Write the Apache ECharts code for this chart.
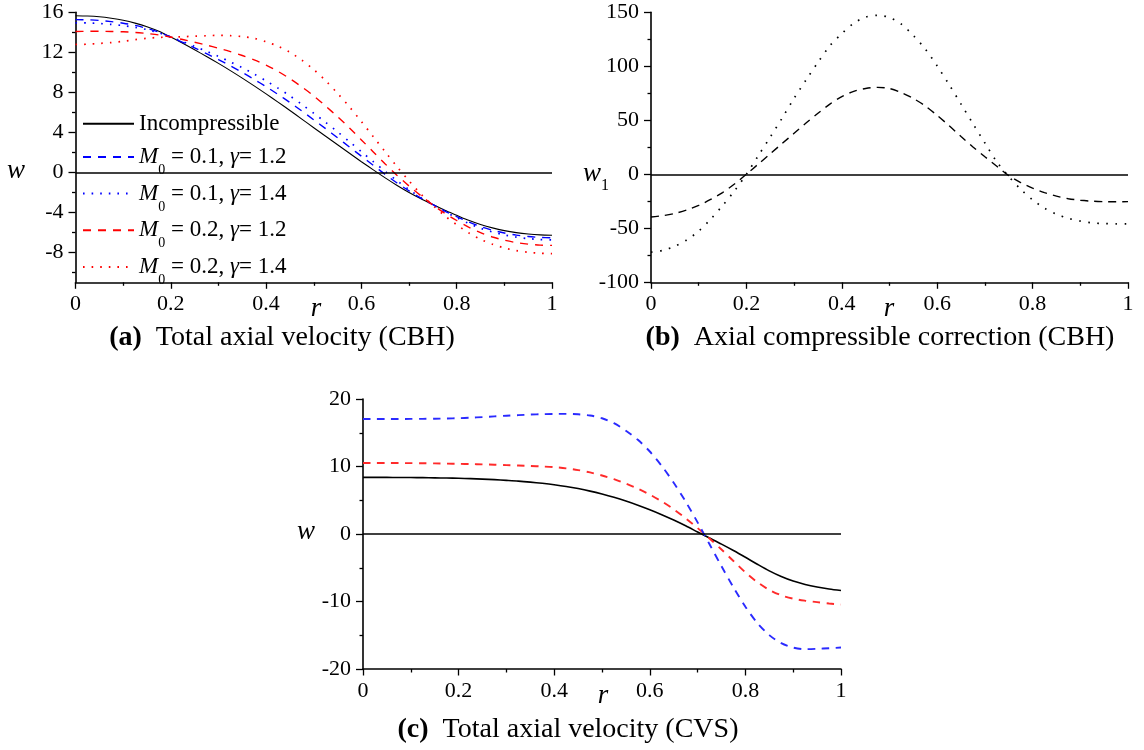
<!DOCTYPE html>
<html><head><meta charset="utf-8">
<script src="https://cdn.jsdelivr.net/npm/echarts@6/dist/echarts.min.js"></script>
<style>html,body{margin:0;padding:0;background:#fff}#c{width:1144px;height:750px}</style>
</head><body><div id="c"></div>
<script>
// ---- data ----
const R = [0,0.025,0.05,0.075,0.1,0.125,0.15,0.175,0.2,0.225,0.25,0.275,0.3,0.325,0.35,0.375,0.4,0.425,0.45,0.475,0.5,0.525,0.55,0.575,0.6,0.625,0.65,0.675,0.7,0.725,0.75,0.775,0.8,0.825,0.85,0.875,0.9,0.925,0.95,0.975,1];

// (a) total axial velocity (CBH)
const incompA = [15.66,15.63,15.55,15.40,15.20,14.92,14.56,14.10,13.52,12.90,12.25,11.58,10.89,10.17,9.42,8.64,7.84,7.02,6.18,5.32,4.46,3.60,2.75,1.90,1.06,0.24,-0.56,-1.32,-2.02,-2.65,-3.22,-3.80,-4.30,-4.80,-5.22,-5.56,-5.83,-6.03,-6.17,-6.26,-6.30];
const m01g12A = [15.27,15.25,15.19,15.07,14.91,14.69,14.39,14.01,13.52,13.00,12.44,11.87,11.27,10.65,9.99,9.29,8.56,7.79,6.98,6.13,5.25,4.36,3.45,2.53,1.61,0.69,-0.21,-1.07,-1.86,-2.58,-3.23,-3.88,-4.43,-4.97,-5.42,-5.79,-6.07,-6.28,-6.42,-6.51,-6.55];
const m01g14A = [14.94,14.93,14.88,14.79,14.67,14.50,14.27,13.95,13.52,13.07,12.59,12.10,11.59,11.04,10.46,9.83,9.14,8.42,7.64,6.79,5.91,4.99,4.04,3.06,2.06,1.07,0.09,-0.85,-1.73,-2.54,-3.24,-3.94,-4.54,-5.11,-5.59,-5.97,-6.26,-6.48,-6.63,-6.72,-6.76];
const m02g12A = [14.08,14.10,14.10,14.08,14.05,13.99,13.88,13.74,13.52,13.28,13.01,12.72,12.41,12.07,11.68,11.24,10.72,10.09,9.36,8.54,7.64,6.62,5.56,4.43,3.24,2.04,0.84,-0.31,-1.37,-2.35,-3.27,-4.10,-4.82,-5.48,-6.04,-6.47,-6.79,-7.03,-7.18,-7.28,-7.31];
const m02g14A = [12.78,12.81,12.89,12.97,13.10,13.26,13.40,13.49,13.52,13.56,13.61,13.66,13.69,13.66,13.57,13.40,13.05,12.61,12.00,11.21,10.27,9.16,7.89,6.54,5.07,3.56,2.04,0.55,-0.86,-2.19,-3.30,-4.35,-5.24,-6.05,-6.70,-7.19,-7.56,-7.83,-7.99,-8.10,-8.14];

// (b) axial compressible correction (CBH)
const w1g12 = [-39.5,-38.3,-36.2,-33.0,-28.8,-23.3,-16.9,-9.0,0,9.5,19.0,28.5,38.0,47.5,56.5,65.0,72.0,76.8,79.5,80.5,79.4,75.6,70.2,63.3,54.5,45.0,35.0,25.3,16.2,7.5,-1.2,-7.6,-12.8,-16.9,-20.2,-22.6,-24.0,-24.9,-25.3,-25.4,-25.3];
const w1g14 = [-72.1,-70.5,-66.6,-60.7,-52.6,-41.6,-29.0,-15.3,0,17.3,34.5,52.1,70.4,87.3,103.7,119.0,130.3,139.8,145.6,147.2,145.2,139.0,128.5,116.0,100.3,83.0,65.0,46.8,29.0,11.5,-2.0,-13.8,-23.6,-31.3,-36.9,-40.8,-43.3,-45.0,-45.6,-45.9,-45.9];

// (c) total axial velocity (CVS)
const incompC = [8.39,8.39,8.385,8.375,8.36,8.345,8.32,8.29,8.25,8.20,8.13,8.05,7.95,7.84,7.69,7.51,7.30,7.045,6.73,6.356,5.92,5.43,4.876,4.263,3.59,2.858,2.066,1.214,0.30,-0.60,-1.50,-2.45,-3.45,-4.48,-5.46,-6.30,-6.98,-7.47,-7.85,-8.15,-8.37];
const redC = [10.52,10.52,10.52,10.51,10.50,10.48,10.46,10.43,10.40,10.36,10.32,10.27,10.21,10.15,10.08,10.00,9.90,9.73,9.47,9.12,8.67,8.12,7.47,6.71,5.84,4.83,3.66,2.33,0.88,-0.67,-2.30,-4.00,-5.68,-7.13,-8.28,-9.08,-9.58,-9.88,-10.10,-10.30,-10.45];
const blueC = [17.04,17.04,17.04,17.04,17.05,17.06,17.08,17.11,17.16,17.23,17.32,17.42,17.52,17.61,17.69,17.75,17.79,17.79,17.73,17.55,17.15,16.42,15.30,13.95,12.22,10.08,7.60,4.80,1.72,-1.53,-4.78,-7.90,-10.78,-13.18,-14.98,-16.18,-16.83,-17.06,-17.01,-16.92,-16.82];

// ticks
const yTicksA = [-8,-4,0,4,8,12,16];
const yMinorA = [-10,-6,-2,2,6,10,14];
const yRangeA = [-11, 16];
const yRangeB = [-100, 150, 50];
const yRangeC = [-20, 20, 10];

// legend labels
const legendNames = ['Incompressible','M01G12','M01G14','M02G12','M02G14'];
const legendText = {
  'Incompressible': '{n|Incompressible}',
  'M01G12': '{i|M}{s|0}{n| = 0.1, }{i|\u03b3}{n|= 1.2}',
  'M01G14': '{i|M}{s|0}{n| = 0.1, }{i|\u03b3}{n|= 1.4}',
  'M02G12': '{i|M}{s|0}{n| = 0.2, }{i|\u03b3}{n|= 1.2}',
  'M02G14': '{i|M}{s|0}{n| = 0.2, }{i|\u03b3}{n|= 1.4}'
};

// ---- chart ----
const FONT = '"Liberation Serif", "Times New Roman", serif';
const BLUE = '#0000ff', RED = '#ff0000';
const pts = arr => R.map((r, i) => [r, arr[i]]);

const axisLineStyle = {show: true, onZero: false, lineStyle: {color: '#000', width: 1.6}};
const tickStyle = {color: '#000', width: 1.3};
const labelStyle = {color: '#000', fontFamily: FONT, fontSize: 22};

function mkX(g) {
  return {
    type: 'value', gridIndex: g, min: 0, max: 1, interval: 0.2,
    axisLine: axisLineStyle,
    axisTick: {show: true, inside: false, length: 6.5, lineStyle: tickStyle},
    minorTick: {show: true, splitNumber: 2, length: 3.5, lineStyle: tickStyle},
    axisLabel: Object.assign({margin: 11, formatter: v => String(+v.toFixed(1))}, labelStyle),
    splitLine: {show: false}, minorSplitLine: {show: false}
  };
}
function mkY(g, rng) {
  return {
    type: 'value', gridIndex: g, min: rng[0], max: rng[1], interval: rng[2], position: 'left',
    axisLine: axisLineStyle,
    axisTick: {show: true, inside: false, length: 7, lineStyle: tickStyle},
    minorTick: {show: true, splitNumber: 2, length: 3.5, lineStyle: tickStyle},
    axisLabel: Object.assign({margin: 12}, labelStyle),
    splitLine: {show: false}, minorSplitLine: {show: false}
  };
}
const zeroLine = {
  silent: true, symbol: ['none', 'none'], label: {show: false}, animation: false,
  lineStyle: {color: '#000', width: 1.6, type: 'solid'}, data: [{yAxis: 0}]
};
function line(name, xi, yi, arr, color, width, type, extra) {
  return Object.assign({
    name, type: 'line', xAxisIndex: xi, yAxisIndex: yi, data: pts(arr),
    symbol: 'none', showSymbol: false, smooth: 0.3, animation: false,
    lineStyle: {color, width, type}, itemStyle: {color}, z: 3
  }, extra || {});
}

const legendRich = {
  n: {fontFamily: FONT, fontSize: 23, color: '#000', lineHeight: 34},
  i: {fontFamily: FONT, fontSize: 23, fontStyle: 'italic', color: '#000', lineHeight: 34},
  s: {fontFamily: FONT, fontSize: 14, color: '#000', lineHeight: 34, padding: [27, 0, 0, 0]}
};
const legendCenters = [123.8, 153.5, 190, 226.7, 263.5];
const legends = legendNames.map((nm, k) => ({
  data: [nm], left: 82, top: legendCenters[k] - 17, padding: 0, orient: 'vertical',
  itemWidth: 51, itemHeight: 14, itemGap: 5, selectedMode: false,
  itemStyle: {opacity: 0},
  formatter: name => legendText[name],
  textStyle: {fontFamily: FONT, fontSize: 23, color: '#000', lineHeight: 34, rich: legendRich}
}));

function txt(x, y, text, size, italic, rich) {
  return {
    type: 'text', x, y, z: 10, silent: true,
    style: {
      text, fill: '#000', fontFamily: FONT, fontSize: size, fontStyle: italic ? 'italic' : 'normal',
      align: 'center', verticalAlign: 'middle', textAlign: 'center', textVerticalAlign: 'middle', rich
    }
  };
}
const capRich = {
  b: {fontFamily: FONT, fontSize: 28, fontWeight: 'bold', color: '#000'},
  n: {fontFamily: FONT, fontSize: 28, color: '#000'}
};
const subRich = {
  i: {fontFamily: FONT, fontSize: 27, fontStyle: 'italic', color: '#000', lineHeight: 34},
  s: {fontFamily: FONT, fontSize: 16, color: '#000', lineHeight: 34, padding: [24, 0, 0, 0]}
};

const option = {
  backgroundColor: '#fff',
  animation: false,
  grid: [
    {left: 75.5, top: 12.3, width: 476.5, height: 270, outerBoundsMode: 'none', containLabel: false},
    {left: 651, top: 12.3, width: 477, height: 270, outerBoundsMode: 'none', containLabel: false},
    {left: 363, top: 399, width: 478, height: 270, outerBoundsMode: 'none', containLabel: false}
  ],
  xAxis: [mkX(0), mkX(1), mkX(2)],
  yAxis: [
    {
      type: 'value', gridIndex: 0, min: yRangeA[0], max: yRangeA[1], position: 'left',
      axisLine: axisLineStyle,
      axisTick: {show: true, inside: false, length: 7, lineStyle: tickStyle, customValues: yTicksA},
      axisLabel: Object.assign({margin: 12, customValues: yTicksA}, labelStyle),
      splitLine: {show: false}
    },
    {
      type: 'value', gridIndex: 0, min: yRangeA[0], max: yRangeA[1], position: 'left', offset: 0,
      axisLine: {show: false, onZero: false},
      axisTick: {show: true, inside: false, length: 3.5, lineStyle: tickStyle, customValues: yMinorA},
      axisLabel: {show: false},
      splitLine: {show: false}
    },
    mkY(1, yRangeB),
    mkY(2, yRangeC)
  ],
  legend: legends,
  series: [
    line('Incompressible', 0, 0, incompA, '#000', 1.1, 'solid', {markLine: zeroLine}),
    line('M01G12', 0, 0, m01g12A, BLUE, 1.4, [8, 7]),
    line('M01G14', 0, 0, m01g14A, BLUE, 1.7, [1.6, 7]),
    line('M02G12', 0, 0, m02g12A, RED, 1.4, [8, 7]),
    line('M02G14', 0, 0, m02g14A, RED, 1.7, [1.6, 7]),
    line('w1 gamma 1.2', 1, 2, w1g12, '#000', 1.4, [8, 6], {markLine: zeroLine}),
    line('w1 gamma 1.4', 1, 2, w1g14, '#000', 1.7, [1.6, 7.5]),
    line('CVS incompressible', 2, 3, incompC, '#000', 1.6, 'solid', {markLine: zeroLine}),
    line('CVS red', 2, 3, redC, '#ff2a2a', 1.9, [7.5, 6.5]),
    line('CVS blue', 2, 3, blueC, '#2a2aff', 1.9, [7.5, 6.5])
  ],
  graphic: [
    txt(16, 170.5, 'w', 27, true),
    txt(316, 309, 'r', 27, true),
    txt(596, 174, '{i|w}{s|1}', 27, true, subRich),
    txt(889, 309, 'r', 27, true),
    txt(306, 532, 'w', 27, true),
    txt(603, 696, 'r', 27, true),
    txt(282, 338, '{b|(a)}{n|  Total axial velocity (CBH)}', 28, false, capRich),
    txt(880, 338, '{b|(b)}{n|  Axial compressible correction (CBH)}', 28, false, capRich),
    txt(568, 730, '{b|(c)}{n|  Total axial velocity (CVS)}', 28, false, capRich)
  ]
};
const chart = echarts.init(document.getElementById('c'), null, {renderer: 'canvas'});
chart.setOption(option);
</script>
</body></html>
